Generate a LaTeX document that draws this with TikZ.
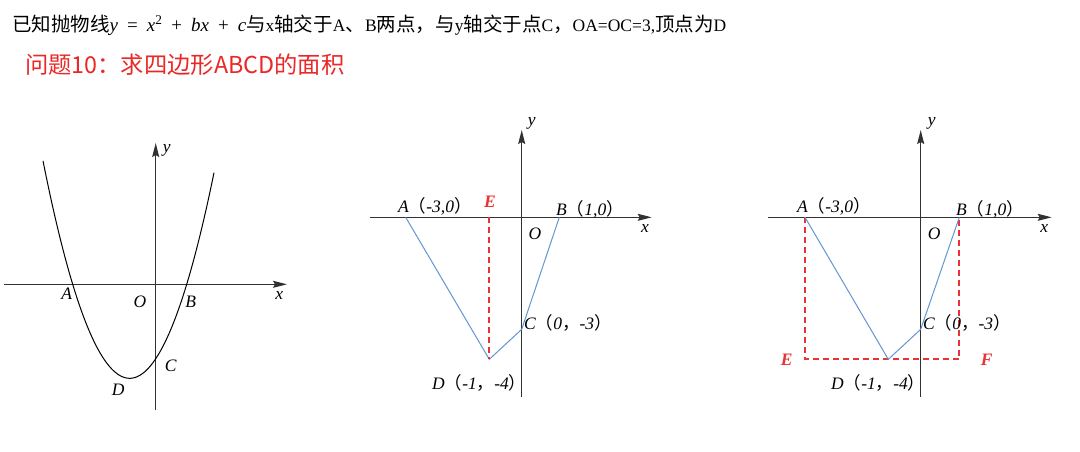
\documentclass[tikz,border=0pt]{standalone}
\usepackage{fontspec}
\setmainfont{Liberation Serif}
\newfontfamily\cjk{Noto Sans CJK SC}
\usetikzlibrary{arrows.meta}
\definecolor{segblue}{RGB}{100,150,210}
\definecolor{dashred}{RGB}{232,50,55}
\definecolor{titlered}{RGB}{235,40,40}
\definecolor{axisgray}{RGB}{50,50,50}
\newcommand\myLP{{\cjk\upshape （}}
\newcommand\myRP{{\cjk\upshape ）}}
\newcommand\myCM{{\cjk\upshape ，}}
\newcommand\myGap{\hspace{9pt}}
\newcommand\myL[1]{{\fontsize{17.5}{20}\selectfont\rmfamily #1}}
\tikzset{
  axis/.style={draw=axisgray, line width=1.2pt, -{Stealth[length=14pt,width=7pt,inset=2pt]}},
  seg/.style={draw=segblue, line width=1pt},
  reddash/.style={draw=dashred, line width=1.8pt, dash pattern=on 6pt off 4pt},
  lab/.style={inner sep=0pt, font=\fontsize{17.5}{20}\selectfont\itshape},
  redlab/.style={inner sep=0pt, text=dashred, font=\fontsize{17.5}{20}\selectfont\bfseries\itshape},
}
\begin{document}
\begin{tikzpicture}[x=1pt,y=-1pt]
\useasboundingbox (0,0) rectangle (1080,451);
\fill[white] (0,0) rectangle (1080,451);
% titles
\node[anchor=west, inner sep=0pt] (t1) at (12,25) {\fontsize{19.5}{22}\selectfont\cjk 已知抛物线{\fontsize{19}{22}\selectfont\rmfamily\itshape y\myGap\upshape =\myGap\itshape x\textsuperscript{\upshape 2}\myGap\upshape +\myGap\itshape bx\myGap\upshape +\myGap\itshape c}与\myL{x}轴交于\myL{A}、\myL{B}两点，与\myL{y}轴交于点\myL{C}，\myL{OA=OC=3,}顶点为\myL{D}};
\node[anchor=west, inner sep=0pt, text=titlered] (t2) at (25,65) {\fontsize{23.3}{26}\selectfont\cjk 问题10：求四边形ABCD的面积};

% ---------- panel 1 ----------
\coordinate (p1xs) at (4,284.3);
\coordinate (p1xe) at (287,284.3);
\coordinate (p1ys) at (155.7,410);
\coordinate (p1ye) at (155.7,143);
\draw[axis] (p1xs) -- (p1xe);
\draw[axis] (p1ys) -- (p1ye);
\draw[line width=1pt, black] plot[domain=43:214, samples=100, smooth] (\x, {378.3-0.02893*(\x-129.7)*(\x-129.7)});
\node[lab] (p1A) at (66.7,293.3) {A};
\node[lab] (p1O) at (140,302) {O};
\node[lab] (p1B) at (190.7,302) {B};
\node[lab] (p1x) at (279.3,295) {x};
\node[lab] (p1y) at (166.7,150) {y};
\node[lab] (p1C) at (170.7,366) {C};
\node[lab] (p1D) at (118.3,389.3) {D};

% ---------- panel 2 ----------
\coordinate (p2xs) at (370,217.3);
\coordinate (p2xe) at (651.7,217.3);
\coordinate (p2ys) at (521.7,396.7);
\coordinate (p2ye) at (521.7,130);
\coordinate (p2A) at (405.7,217.3);
\coordinate (p2B) at (559.3,217.3);
\coordinate (p2C) at (521.7,329.3);
\coordinate (p2D) at (489.3,359.3);
\coordinate (p2E) at (489.3,217.3);
\draw[axis] (p2xs) -- (p2xe);
\draw[axis] (p2ys) -- (p2ye);
\draw[seg] (p2A) -- (p2D) -- (p2C) -- (p2B);
\draw[reddash] (p2E) -- (p2D);
\node[lab, anchor=west] (p2Al) at (398,206.7) {A\myLP-3,0\myRP};
\node[redlab] (p2El) at (490,201.7) {E};
\node[lab, anchor=west] (p2Bl) at (556,209.3) {B\myLP1,0\myRP};
\node[lab] (p2O) at (535,233.3) {O};
\node[lab] (p2x) at (645,228.3) {x};
\node[lab] (p2y) at (531.7,123.3) {y};
\node[lab, anchor=west] (p2Cl) at (524,323.3) {C\myLP0\myCM-3\myRP};
\node[lab, anchor=west] (p2Dl) at (432,383.3) {D\myLP-1\myCM-4\myRP};

% ---------- panel 3 ----------
\coordinate (p3xs) at (768.3,217.3);
\coordinate (p3xe) at (1051.7,217.3);
\coordinate (p3ys) at (920.7,396.7);
\coordinate (p3ye) at (920.7,130);
\coordinate (p3A) at (805,217.3);
\coordinate (p3B) at (959.3,217.3);
\coordinate (p3C) at (920.7,329.3);
\coordinate (p3D) at (888.3,359.3);
\coordinate (p3E) at (805,359.3);
\coordinate (p3F) at (959.3,359.3);
\draw[axis] (p3xs) -- (p3xe);
\draw[axis] (p3ys) -- (p3ye);
\draw[reddash] (p3A) -- (p3E) -- (p3F) -- (p3B);
\draw[seg] (p3A) -- (p3D) -- (p3C) -- (p3B);
\node[lab, anchor=west] (p3Al) at (797,206.7) {A\myLP-3,0\myRP};
\node[lab, anchor=west] (p3Bl) at (956,209.3) {B\myLP1,0\myRP};
\node[lab] (p3O) at (934.3,233.3) {O};
\node[lab] (p3x) at (1044.3,228.3) {x};
\node[lab] (p3y) at (931.7,123.3) {y};
\node[lab, anchor=west] (p3Cl) at (923,323.3) {C\myLP0\myCM-3\myRP};
\node[lab, anchor=west] (p3Dl) at (831,383.3) {D\myLP-1\myCM-4\myRP};
\node[redlab] (p3El) at (786.7,359.3) {E};
\node[redlab] (p3Fl) at (986.7,359.3) {F};
\end{tikzpicture}
\end{document}
